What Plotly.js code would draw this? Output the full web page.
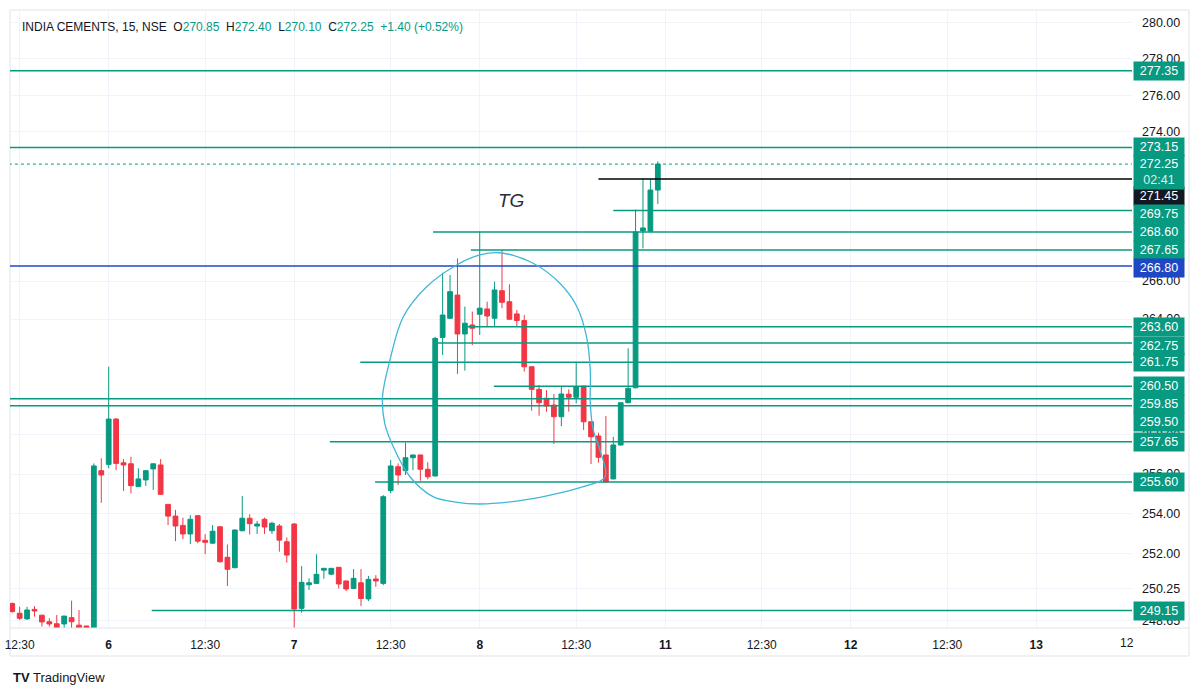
<!DOCTYPE html>
<html>
<head>
<meta charset="utf-8">
<script src="https://cdn.plot.ly/plotly-3.0.1.min.js"></script>
<style>
html,body{margin:0;padding:0;background:#ffffff;}
#chart{width:1200px;height:695px;}
</style>
</head>
<body>
<div id="chart"></div>
<script>
// ---------- DATA ----------
const symbolTitle = "INDIA CEMENTS, 15, NSE";
const changeText = "+1.40 (+0.52%)";
const countdown = "02:41";

// 15-minute candles, oldest first (5th 12:15 -> 8th 15:15)
const opens  = [249.50,249.02,248.74,249.21,248.92,248.60,248.50,248.49,248.80,248.43,248.39,248.20,
                256.17,256.49,258.81,256.57,256.52,255.36,255.70,256.26,256.46,254.46,253.87,253.40,252.97,253.89,252.65,252.51,253.33,251.80,251.28,253.13,253.76,253.37,253.71,253.13,253.37,252.58,
                253.47,249.26,250.43,250.50,251.16,250.96,251.30,250.62,250.25,250.53,249.73,250.72,250.50,255.16,256.37,256.17,256.83,256.97,256.24,255.90,263.04,264.04,265.26,263.22,263.69,
                264.25,264.53,264.04,265.49,264.91,264.27,263.92,261.51,260.34,259.88,259.53,258.93,260.09,259.93,260.51,258.67,257.94,256.97,255.75,257.48,259.65,260.42,268.66,268.65,270.85];
const highs  = [249.55,249.34,249.34,249.37,248.95,248.77,248.93,248.88,249.64,249.18,248.40,256.54,
                256.80,261.51,258.85,256.76,256.88,256.29,256.19,256.53,256.76,254.48,254.18,253.79,253.92,253.92,252.96,253.42,253.35,252.44,253.19,254.88,253.96,253.63,253.79,253.58,253.47,252.80,
                253.52,251.36,250.75,251.95,251.26,251.26,251.31,250.63,251.21,251.21,250.87,250.91,254.93,256.71,256.54,257.60,256.98,256.98,256.60,263.07,266.44,266.32,267.20,264.65,264.39,
                268.65,264.91,265.97,267.64,265.83,264.48,264.21,261.53,260.56,260.30,260.10,260.48,260.34,261.77,260.52,258.68,258.11,258.97,257.90,259.66,262.47,269.80,271.45,271.45,272.40];
const lows   = [249.05,248.69,248.69,248.85,248.36,248.36,248.26,248.26,248.26,248.20,248.20,248.10,
                254.54,256.29,256.20,255.14,255.02,255.34,255.39,255.19,254.95,253.42,252.61,252.71,252.46,252.50,251.96,252.46,251.53,250.37,251.26,253.11,252.95,252.97,252.97,252.97,252.08,251.53,
                248.15,249.05,250.17,250.48,250.73,250.91,250.25,250.12,250.24,249.37,249.62,250.33,250.41,255.02,255.44,255.95,256.20,255.66,255.73,255.88,262.12,264.03,261.14,261.31,262.64,
                263.17,263.60,263.60,264.57,263.97,263.60,261.26,259.24,258.98,259.19,257.53,258.45,259.19,259.62,258.25,256.51,256.58,255.55,255.73,257.44,259.62,260.40,267.73,268.63,270.10];
const closes = [249.10,248.77,249.18,249.13,248.59,248.49,248.28,248.88,248.60,248.28,248.28,256.41,
                255.95,258.81,256.54,256.46,255.41,255.75,256.17,256.52,254.97,253.87,253.37,252.97,253.71,252.61,252.55,253.11,251.58,251.20,253.17,253.76,253.49,253.47,253.32,253.51,252.66,251.91,
                249.23,250.55,250.53,250.95,251.25,251.25,250.47,250.22,250.75,249.75,250.70,250.62,254.85,256.41,255.95,256.83,256.97,256.24,255.86,262.99,264.21,265.44,263.22,263.78,263.52,
                264.57,264.16,265.53,264.88,263.99,263.92,261.51,260.34,259.65,259.48,258.93,260.10,259.93,260.48,258.67,257.90,256.85,255.60,257.48,259.65,260.39,268.60,268.82,270.85,272.25];

// time axis labels (bar number -> label)
const timeTickBars   = [1, 13, 26, 38, 51, 63, 76, 88, 101, 113, 126, 138];
const timeTickLabels = ["12:30","6","12:30","7","12:30","8","12:30","11","12:30","12","12:30","13"];
const dayLabels = ["6","7","8","11","12","13"];

// price scale ticks that show (the rest sit under the level labels)
const priceTicks = [248.65, 250.25, 252, 254, 256, 258, 264, 266, 274, 276, 278, 280];

// horizontal levels drawn on the chart (price, bar where the line starts; null = whole width)
const levelPrices = [277.35, 273.15, 271.45, 269.75, 268.60, 267.65, 266.80, 263.60, 262.75, 261.75, 260.50, 259.85, 259.50, 257.65, 255.60, 249.15];
const levelStartBar = [null, null, 79.0, 81.0, 56.7, 61.8, null, 61.2, 57.2, 46.9, 64.9, null, null, 42.8, 48.9, 18.8];

// freehand loop drawn round the consolidation (bar, price)
const loopBars   = [79.9, 76.95, 72.5, 68.0, 63.0, 59.7, 56.7, 53.6, 51.35, 50.2, 49.9, 50.9, 52.7, 55.85, 59.9, 63.0, 65.7, 70.2, 73.8, 76.1, 77.4, 77.9, 77.9, 78.3, 79.2, 79.9];
const loopPrices = [255.86, 255.36, 254.93, 254.63, 254.48, 254.58, 254.85, 255.86, 257.39, 258.59, 259.96, 261.86, 264.12, 265.70, 266.85, 267.38, 267.50, 266.94, 265.88, 264.65, 263.07, 261.34, 259.62, 258.25, 257.22, 255.86];

const tgNote = {bar: 67.2, price: 270.3, text: "TG"};

// ---------- STYLE ----------
const TEAL = '#089981', RED = '#f23645', BLUE = '#1f47c4', BLACK = '#131722';
const levelColor = {"271.45": '#000000', "266.80": BLUE};
const labelColor = {"271.45": BLACK, "266.80": BLUE};
const labelShift = {"271.45": -17, "269.75": -3, "266.80": -2, "262.75": -3, "259.85": -5, "259.50": -16};
const FONT = 'Liberation Sans, Arial, sans-serif';
const X_RANGE = [-0.3, 150.9];
const Y_RANGE = [248.29, 280.71];

const bars = opens.map((_, i) => i);
const last = opens.length - 1;

const traces = [];
traces.push({
  type: 'candlestick', x: bars, open: opens, high: highs, low: lows, close: closes,
  increasing: {line: {color: TEAL, width: 1}, fillcolor: TEAL},
  decreasing: {line: {color: RED, width: 1}, fillcolor: RED},
  whiskerwidth: 0, hoverinfo: 'skip', showlegend: false
});
// current price dotted line
traces.push({type: 'scatter', mode: 'lines', x: [X_RANGE[0] - 5, 400], y: [closes[last], closes[last]],
  line: {color: TEAL, width: 1, dash: 'dot'}, hoverinfo: 'skip', showlegend: false});
levelPrices.forEach((p, i) => {
  const key = p.toFixed(2);
  const start = levelStartBar[i] === null ? X_RANGE[0] - 5 : levelStartBar[i];
  traces.push({type: 'scatter', mode: 'lines', x: [start, 400], y: [p, p],
    line: {color: levelColor[key] || TEAL, width: key === "266.80" ? 1.6 : 1.5},
    hoverinfo: 'skip', showlegend: false});
});
traces.push({type: 'scatter', mode: 'lines', x: loopBars, y: loopPrices,
  line: {color: '#3fb7d6', width: 1.3, shape: 'spline', smoothing: 1},
  hoverinfo: 'skip', showlegend: false});

// ---------- ANNOTATIONS ----------
const ann = [];
const sp = '\u00a0\u00a0';
const g = v => '<span style="color:' + TEAL + '">' + v + '</span>';
ann.push({
  xref: 'paper', yref: 'paper', x: 0.0089, y: 0.9725, xanchor: 'left', yanchor: 'middle', showarrow: false,
  text: symbolTitle + sp + 'O' + g(opens[last].toFixed(2)) + sp + 'H' + g(highs[last].toFixed(2)) + sp +
        'L' + g(lows[last].toFixed(2)) + sp + 'C' + g(closes[last].toFixed(2)) + sp + g(changeText),
  font: {family: FONT, size: 12, color: BLACK}
});
// price-scale labels
levelPrices.forEach(p => {
  const key = p.toFixed(2);
  ann.push({xref: 'paper', yref: 'y', x: 1, y: Math.log10(p), xanchor: 'left', yanchor: 'middle',
    xshift: 1, yshift: labelShift[key] || 0, showarrow: false, text: key,
    bgcolor: labelColor[key] || TEAL, borderpad: 2, width: 46, height: 14, align: 'center',
    font: {family: FONT, size: 12.5, color: '#ffffff'}});
});
ann.push({xref: 'paper', yref: 'y', x: 1, y: Math.log10(closes[last]), xanchor: 'left', yanchor: 'middle',
  xshift: 1, yshift: -8, showarrow: false,
  text: closes[last].toFixed(2) + '<br><span style="color:#d9f2ec">' + countdown + '</span>',
  bgcolor: TEAL, borderpad: 2, width: 46, height: 30, align: 'center',
  font: {family: FONT, size: 12.5, color: '#ffffff'}});
ann.push({xref: 'x', yref: 'y', x: tgNote.bar, y: Math.log10(tgNote.price), showarrow: false,
  text: '<i>' + tgNote.text + '</i>', font: {family: FONT, size: 19, color: '#2a2e39'}});
// clipped time label at right edge
ann.push({xref: 'paper', yref: 'paper', x: 0.9955, y: -0.0243, xanchor: 'center', yanchor: 'middle', showarrow: false,
  text: '12', font: {family: FONT, size: 12, color: BLACK}});
// logo
ann.push({xref: 'paper', yref: 'paper', x: 0.0009, y: -0.0793, xanchor: 'left', yanchor: 'middle', showarrow: false,
  text: '<b>TV</b> TradingView', font: {family: FONT, size: 13, color: BLACK}});

const tickText = timeTickLabels.map(t => dayLabels.includes(t) ? '<b>' + t + '</b>' : t);

const layout = {
  width: 1200, height: 695,
  margin: {l: 10, r: 68, t: 10, b: 67},
  paper_bgcolor: '#ffffff', plot_bgcolor: '#ffffff',
  showlegend: false, hovermode: false,
  boxgap: 0.2, boxgroupgap: 0.2,
  font: {family: FONT, size: 12, color: BLACK},
  xaxis: {
    type: 'linear', range: X_RANGE, rangeslider: {visible: false},
    tickmode: 'array', tickvals: timeTickBars, ticktext: tickText,
    ticks: '', ticklabelstandoff: 8, showgrid: true, gridcolor: '#f0f3fa', gridwidth: 1,
    zeroline: false, showline: false, tickfont: {family: FONT, size: 12, color: BLACK}, fixedrange: true
  },
  yaxis: {
    type: 'log', side: 'right', range: [Math.log10(Y_RANGE[0]), Math.log10(Y_RANGE[1])],
    tickmode: 'array', tickvals: priceTicks, ticktext: priceTicks.map(v => v.toFixed(2)),
    ticks: '', ticklabelstandoff: 9, showgrid: true, gridcolor: '#f0f3fa', gridwidth: 1,
    zeroline: false, showline: false, tickfont: {family: FONT, size: 12.5, color: BLACK}, fixedrange: true
  },
  shapes: [
    {type: 'rect', xref: 'paper', yref: 'paper', x0: 0, x1: 1.0508, y0: -0.0453, y1: 1,
     line: {color: '#e0e3eb', width: 1}, fillcolor: 'rgba(0,0,0,0)', layer: 'below'},
    {type: 'line', xref: 'paper', yref: 'paper', x0: 0, x1: 1.0508, y0: 0, y1: 0,
     line: {color: '#e0e3eb', width: 1}}
  ],
  annotations: ann
};

Plotly.newPlot('chart', traces, layout, {displayModeBar: false, staticPlot: true});
</script>
</body>
</html>
